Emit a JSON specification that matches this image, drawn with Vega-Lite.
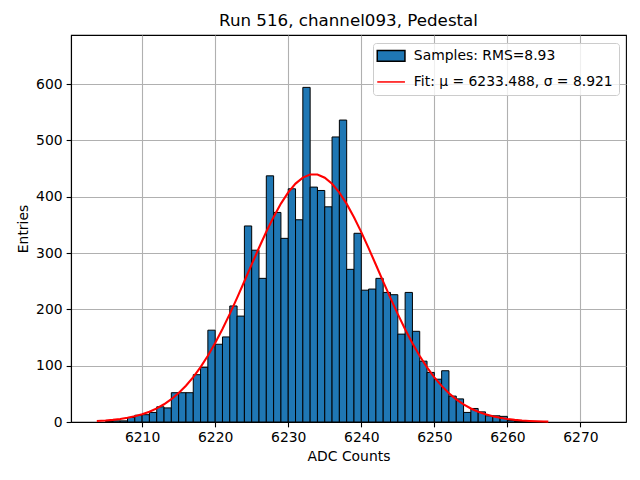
{
  "$schema": "https://vega.github.io/schema/vega-lite/v6.json",
  "width": 555,
  "height": 387,
  "autosize": {"type": "none"},
  "padding": {"left": 71, "top": 35, "right": 14, "bottom": 58},
  "background": "white",
  "title": {
    "text": "Run 516, channel093, Pedestal",
    "fontSize": 16.7,
    "fontWeight": "normal",
    "color": "black",
    "baseline": "alphabetic",
    "offset": 8.3,
    "dy": 16,
    "anchor": "middle"
  },
  "datasets": {
    "hist": [
      {"start": 6205, "end": 6206, "count": 1, "series": "Samples: RMS=8.93"},
      {"start": 6206, "end": 6207, "count": 2, "series": "Samples: RMS=8.93"},
      {"start": 6207, "end": 6208, "count": 2, "series": "Samples: RMS=8.93"},
      {"start": 6208, "end": 6209, "count": 8, "series": "Samples: RMS=8.93"},
      {"start": 6209, "end": 6210, "count": 12, "series": "Samples: RMS=8.93"},
      {"start": 6210, "end": 6211, "count": 13, "series": "Samples: RMS=8.93"},
      {"start": 6211, "end": 6212, "count": 17, "series": "Samples: RMS=8.93"},
      {"start": 6212, "end": 6213, "count": 27, "series": "Samples: RMS=8.93"},
      {"start": 6213, "end": 6214, "count": 25, "series": "Samples: RMS=8.93"},
      {"start": 6214, "end": 6215, "count": 52, "series": "Samples: RMS=8.93"},
      {"start": 6215, "end": 6216, "count": 52, "series": "Samples: RMS=8.93"},
      {"start": 6216, "end": 6217, "count": 52, "series": "Samples: RMS=8.93"},
      {"start": 6217, "end": 6218, "count": 84, "series": "Samples: RMS=8.93"},
      {"start": 6218, "end": 6219, "count": 97, "series": "Samples: RMS=8.93"},
      {"start": 6219, "end": 6220, "count": 163, "series": "Samples: RMS=8.93"},
      {"start": 6220, "end": 6221, "count": 138, "series": "Samples: RMS=8.93"},
      {"start": 6221, "end": 6222, "count": 151, "series": "Samples: RMS=8.93"},
      {"start": 6222, "end": 6223, "count": 206, "series": "Samples: RMS=8.93"},
      {"start": 6223, "end": 6224, "count": 188, "series": "Samples: RMS=8.93"},
      {"start": 6224, "end": 6225, "count": 348, "series": "Samples: RMS=8.93"},
      {"start": 6225, "end": 6226, "count": 305, "series": "Samples: RMS=8.93"},
      {"start": 6226, "end": 6227, "count": 255, "series": "Samples: RMS=8.93"},
      {"start": 6227, "end": 6228, "count": 437, "series": "Samples: RMS=8.93"},
      {"start": 6228, "end": 6229, "count": 372, "series": "Samples: RMS=8.93"},
      {"start": 6229, "end": 6230, "count": 326, "series": "Samples: RMS=8.93"},
      {"start": 6230, "end": 6231, "count": 414, "series": "Samples: RMS=8.93"},
      {"start": 6231, "end": 6232, "count": 359, "series": "Samples: RMS=8.93"},
      {"start": 6232, "end": 6233, "count": 594, "series": "Samples: RMS=8.93"},
      {"start": 6233, "end": 6234, "count": 417, "series": "Samples: RMS=8.93"},
      {"start": 6234, "end": 6235, "count": 411, "series": "Samples: RMS=8.93"},
      {"start": 6235, "end": 6236, "count": 382, "series": "Samples: RMS=8.93"},
      {"start": 6236, "end": 6237, "count": 506, "series": "Samples: RMS=8.93"},
      {"start": 6237, "end": 6238, "count": 536, "series": "Samples: RMS=8.93"},
      {"start": 6238, "end": 6239, "count": 271, "series": "Samples: RMS=8.93"},
      {"start": 6239, "end": 6240, "count": 335, "series": "Samples: RMS=8.93"},
      {"start": 6240, "end": 6241, "count": 234, "series": "Samples: RMS=8.93"},
      {"start": 6241, "end": 6242, "count": 236, "series": "Samples: RMS=8.93"},
      {"start": 6242, "end": 6243, "count": 255, "series": "Samples: RMS=8.93"},
      {"start": 6243, "end": 6244, "count": 230, "series": "Samples: RMS=8.93"},
      {"start": 6244, "end": 6245, "count": 226, "series": "Samples: RMS=8.93"},
      {"start": 6245, "end": 6246, "count": 156, "series": "Samples: RMS=8.93"},
      {"start": 6246, "end": 6247, "count": 230, "series": "Samples: RMS=8.93"},
      {"start": 6247, "end": 6248, "count": 161, "series": "Samples: RMS=8.93"},
      {"start": 6248, "end": 6249, "count": 108, "series": "Samples: RMS=8.93"},
      {"start": 6249, "end": 6250, "count": 88, "series": "Samples: RMS=8.93"},
      {"start": 6250, "end": 6251, "count": 76, "series": "Samples: RMS=8.93"},
      {"start": 6251, "end": 6252, "count": 91, "series": "Samples: RMS=8.93"},
      {"start": 6252, "end": 6253, "count": 46, "series": "Samples: RMS=8.93"},
      {"start": 6253, "end": 6254, "count": 41, "series": "Samples: RMS=8.93"},
      {"start": 6254, "end": 6255, "count": 17, "series": "Samples: RMS=8.93"},
      {"start": 6255, "end": 6256, "count": 24, "series": "Samples: RMS=8.93"},
      {"start": 6256, "end": 6257, "count": 18, "series": "Samples: RMS=8.93"},
      {"start": 6257, "end": 6258, "count": 11, "series": "Samples: RMS=8.93"},
      {"start": 6258, "end": 6259, "count": 11, "series": "Samples: RMS=8.93"},
      {"start": 6259, "end": 6260, "count": 10, "series": "Samples: RMS=8.93"},
      {"start": 6260, "end": 6261, "count": 3, "series": "Samples: RMS=8.93"},
      {"start": 6261, "end": 6262, "count": 1, "series": "Samples: RMS=8.93"},
      {"start": 6262, "end": 6263, "count": 1, "series": "Samples: RMS=8.93"}
    ],
    "fit": [
      {"adc": 6203.8, "entries": 1.73, "series": "Fit: μ = 6233.488, σ = 8.921"},
      {"adc": 6205, "entries": 2.69, "series": "Fit: μ = 6233.488, σ = 8.921"},
      {"adc": 6206, "entries": 3.82, "series": "Fit: μ = 6233.488, σ = 8.921"},
      {"adc": 6207, "entries": 5.36, "series": "Fit: μ = 6233.488, σ = 8.921"},
      {"adc": 6208, "entries": 7.43, "series": "Fit: μ = 6233.488, σ = 8.921"},
      {"adc": 6209, "entries": 10.17, "series": "Fit: μ = 6233.488, σ = 8.921"},
      {"adc": 6210, "entries": 13.75, "series": "Fit: μ = 6233.488, σ = 8.921"},
      {"adc": 6211, "entries": 18.35, "series": "Fit: μ = 6233.488, σ = 8.921"},
      {"adc": 6212, "entries": 24.19, "series": "Fit: μ = 6233.488, σ = 8.921"},
      {"adc": 6213, "entries": 31.49, "series": "Fit: μ = 6233.488, σ = 8.921"},
      {"adc": 6214, "entries": 40.48, "series": "Fit: μ = 6233.488, σ = 8.921"},
      {"adc": 6215, "entries": 51.39, "series": "Fit: μ = 6233.488, σ = 8.921"},
      {"adc": 6216, "entries": 64.42, "series": "Fit: μ = 6233.488, σ = 8.921"},
      {"adc": 6217, "entries": 79.73, "series": "Fit: μ = 6233.488, σ = 8.921"},
      {"adc": 6218, "entries": 97.46, "series": "Fit: μ = 6233.488, σ = 8.921"},
      {"adc": 6219, "entries": 117.7, "series": "Fit: μ = 6233.488, σ = 8.921"},
      {"adc": 6220, "entries": 140.3, "series": "Fit: μ = 6233.488, σ = 8.921"},
      {"adc": 6221, "entries": 165.2, "series": "Fit: μ = 6233.488, σ = 8.921"},
      {"adc": 6222, "entries": 192.0, "series": "Fit: μ = 6233.488, σ = 8.921"},
      {"adc": 6223, "entries": 220.4, "series": "Fit: μ = 6233.488, σ = 8.921"},
      {"adc": 6224, "entries": 249.9, "series": "Fit: μ = 6233.488, σ = 8.921"},
      {"adc": 6225, "entries": 279.8, "series": "Fit: μ = 6233.488, σ = 8.921"},
      {"adc": 6226, "entries": 309.4, "series": "Fit: μ = 6233.488, σ = 8.921"},
      {"adc": 6227, "entries": 337.7, "series": "Fit: μ = 6233.488, σ = 8.921"},
      {"adc": 6228, "entries": 364.1, "series": "Fit: μ = 6233.488, σ = 8.921"},
      {"adc": 6229, "entries": 387.7, "series": "Fit: μ = 6233.488, σ = 8.921"},
      {"adc": 6230, "entries": 407.6, "series": "Fit: μ = 6233.488, σ = 8.921"},
      {"adc": 6231, "entries": 423.2, "series": "Fit: μ = 6233.488, σ = 8.921"},
      {"adc": 6232, "entries": 433.9, "series": "Fit: μ = 6233.488, σ = 8.921"},
      {"adc": 6233, "entries": 439.3, "series": "Fit: μ = 6233.488, σ = 8.921"},
      {"adc": 6234, "entries": 439.3, "series": "Fit: μ = 6233.488, σ = 8.921"},
      {"adc": 6235, "entries": 433.7, "series": "Fit: μ = 6233.488, σ = 8.921"},
      {"adc": 6236, "entries": 422.9, "series": "Fit: μ = 6233.488, σ = 8.921"},
      {"adc": 6237, "entries": 407.2, "series": "Fit: μ = 6233.488, σ = 8.921"},
      {"adc": 6238, "entries": 387.2, "series": "Fit: μ = 6233.488, σ = 8.921"},
      {"adc": 6239, "entries": 363.5, "series": "Fit: μ = 6233.488, σ = 8.921"},
      {"adc": 6240, "entries": 337.1, "series": "Fit: μ = 6233.488, σ = 8.921"},
      {"adc": 6241, "entries": 308.7, "series": "Fit: μ = 6233.488, σ = 8.921"},
      {"adc": 6242, "entries": 279.1, "series": "Fit: μ = 6233.488, σ = 8.921"},
      {"adc": 6243, "entries": 249.2, "series": "Fit: μ = 6233.488, σ = 8.921"},
      {"adc": 6244, "entries": 219.8, "series": "Fit: μ = 6233.488, σ = 8.921"},
      {"adc": 6245, "entries": 191.4, "series": "Fit: μ = 6233.488, σ = 8.921"},
      {"adc": 6246, "entries": 164.6, "series": "Fit: μ = 6233.488, σ = 8.921"},
      {"adc": 6247, "entries": 139.7, "series": "Fit: μ = 6233.488, σ = 8.921"},
      {"adc": 6248, "entries": 117.2, "series": "Fit: μ = 6233.488, σ = 8.921"},
      {"adc": 6249, "entries": 97.0, "series": "Fit: μ = 6233.488, σ = 8.921"},
      {"adc": 6250, "entries": 79.3, "series": "Fit: μ = 6233.488, σ = 8.921"},
      {"adc": 6251, "entries": 64.1, "series": "Fit: μ = 6233.488, σ = 8.921"},
      {"adc": 6252, "entries": 51.1, "series": "Fit: μ = 6233.488, σ = 8.921"},
      {"adc": 6253, "entries": 40.2, "series": "Fit: μ = 6233.488, σ = 8.921"},
      {"adc": 6254, "entries": 31.3, "series": "Fit: μ = 6233.488, σ = 8.921"},
      {"adc": 6255, "entries": 24.0, "series": "Fit: μ = 6233.488, σ = 8.921"},
      {"adc": 6256, "entries": 18.2, "series": "Fit: μ = 6233.488, σ = 8.921"},
      {"adc": 6257, "entries": 13.6, "series": "Fit: μ = 6233.488, σ = 8.921"},
      {"adc": 6258, "entries": 10.1, "series": "Fit: μ = 6233.488, σ = 8.921"},
      {"adc": 6259, "entries": 7.37, "series": "Fit: μ = 6233.488, σ = 8.921"},
      {"adc": 6260, "entries": 5.32, "series": "Fit: μ = 6233.488, σ = 8.921"},
      {"adc": 6261, "entries": 3.79, "series": "Fit: μ = 6233.488, σ = 8.921"},
      {"adc": 6262, "entries": 2.66, "series": "Fit: μ = 6233.488, σ = 8.921"},
      {"adc": 6263, "entries": 1.85, "series": "Fit: μ = 6233.488, σ = 8.921"},
      {"adc": 6264, "entries": 1.27, "series": "Fit: μ = 6233.488, σ = 8.921"},
      {"adc": 6265, "entries": 0.86, "series": "Fit: μ = 6233.488, σ = 8.921"},
      {"adc": 6265.6, "entries": 0.66, "series": "Fit: μ = 6233.488, σ = 8.921"}
    ]
  },
  "layer": [
    {
      "data": {"name": "hist"},
      "mark": {"type": "bar", "strokeWidth": 1, "opacity": 1, "orient": "vertical"},
      "encoding": {
        "x": {
          "field": "start",
          "type": "quantitative",
          "scale": {"domain": [6200.95, 6275.55], "nice": false, "zero": false},
          "axis": {"values": [6210, 6220, 6230, 6240, 6250, 6260, 6270], "format": "d", "title": "ADC Counts"}
        },
        "x2": {"field": "end"},
        "y": {
          "field": "count",
          "type": "quantitative",
          "scale": {"domain": [0, 687], "nice": false},
          "axis": {"values": [0, 100, 200, 300, 400, 500, 600], "title": "Entries"}
        },
        "y2": {"datum": 0},
        "fill": {
          "field": "series",
          "type": "nominal",
          "scale": {
            "domain": ["Samples: RMS=8.93", "Fit: μ = 6233.488, σ = 8.921"],
            "range": ["#1f77b4", "transparent"]
          },
          "legend": {"title": null}
        },
        "stroke": {
          "field": "series",
          "type": "nominal",
          "scale": {
            "domain": ["Samples: RMS=8.93", "Fit: μ = 6233.488, σ = 8.921"],
            "range": ["black", "red"]
          },
          "legend": {"title": null}
        }
      }
    },
    {
      "data": {"name": "fit"},
      "mark": {"type": "line", "strokeWidth": 2.08},
      "encoding": {
        "x": {"field": "adc", "type": "quantitative"},
        "y": {"field": "entries", "type": "quantitative"},
        "stroke": {"field": "series", "type": "nominal", "legend": {"title": null}}
      }
    },
    {
      "data": {"name": "fit"},
      "transform": [{"filter": "false"}],
      "mark": {"type": "point", "strokeWidth": 1.6},
      "encoding": {
        "x": {"field": "adc", "type": "quantitative"},
        "y": {"field": "entries", "type": "quantitative"},
        "shape": {
          "field": "series",
          "type": "nominal",
          "scale": {
            "domain": ["Samples: RMS=8.93", "Fit: μ = 6233.488, σ = 8.921"],
            "range": ["M-2.77,-1.07H2.77V1.07H-2.77Z", "M-2.77,0H2.77"]
          },
          "legend": {"title": null}
        },
        "fill": {"field": "series", "type": "nominal", "legend": {"title": null}},
        "stroke": {"field": "series", "type": "nominal", "legend": {"title": null}}
      }
    }
  ],
  "config": {
    "font": "DejaVu Sans",
    "view": {"stroke": "black", "strokeWidth": 1.1},
    "axis": {
      "zindex": 1,
      "grid": true,
      "gridColor": "#b0b0b0",
      "gridWidth": 1.1,
      "domainColor": "black",
      "domainWidth": 1.1,
      "tickColor": "black",
      "tickWidth": 1.1,
      "tickSize": 4.86,
      "labelFont": "DejaVu Sans",
      "labelFontSize": 13.9,
      "labelColor": "black",
      "labelPadding": 4,
      "labelFlush": false,
      "labelOverlap": false,
      "titleFont": "DejaVu Sans",
      "titleFontSize": 13.9,
      "titleFontWeight": "normal",
      "titleColor": "black",
      "titlePadding": 5
    },
    "legend": {
      "orient": "top-right",
      "offset": 7.5,
      "padding": 6,
      "labelFont": "DejaVu Sans",
      "labelFontSize": 13.9,
      "labelColor": "black",
      "labelLimit": 400,
      "symbolSize": 100,
      "symbolOffset": 5.15,
      "labelOffset": 15.8,
      "rowPadding": 9,
      "strokeColor": "#cccccc",
      "fillColor": "rgba(255,255,255,0.8)",
      "cornerRadius": 3
    }
  }
}
